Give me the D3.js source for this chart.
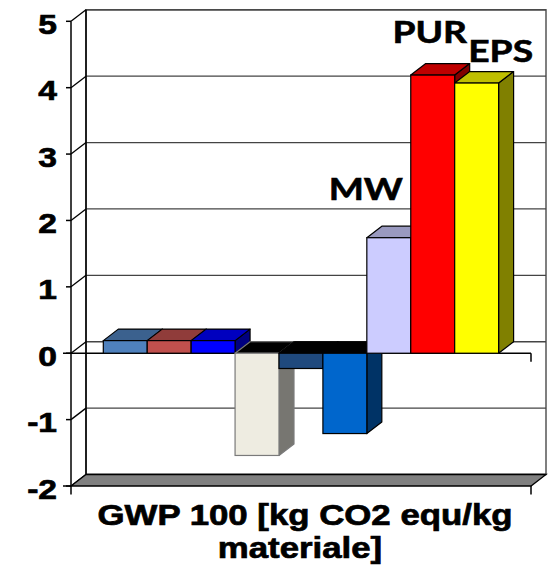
<!DOCTYPE html>
<html>
<head>
<meta charset="utf-8">
<script src="https://cdn.jsdelivr.net/npm/d3@7"></script>
<style>
  html, body { margin: 0; padding: 0; background: #fff; }
  svg { display: block; }
</style>
</head>
<body>
<svg id="chart" width="551" height="588"></svg>
<script>
// ---- data ----
const seriesLabels = ["", "", "", "", "", "", "MW", "PUR", "EPS"];
const seriesValues = [0.19, 0.19, 0.19, -1.54, -0.23, -1.21, 1.74, 4.19, 4.07];
const yTicks = [-2, -1, 0, 1, 2, 3, 4, 5];
const titleLines = ["GWP 100 [kg CO2 equ/kg", "materiale]"];

// ---- styling ----
const frontColors = ["#4F81BD", "#C0504D", "#0000FF", "#EEECE1", "#1F497D",
                     "#0066CC", "#CCCCFF", "#FF0000", "#FFFF00"];
const edgeColors  = ["#000", "#000", "#000", "#7a7a7a", "#000", "#000", "#000", "#000", "#000"];

const svg = d3.select("#chart");
const DX = 15, DY = -11.5;           // depth offset of the 3D box
const xFront = [71, 531];            // front edge of the plot floor
const stretch = 1.2;                 // horizontal text stretch

const y = d3.scaleLinear().domain([-2, 5]).range([486, 21.3]);
const x = d3.scaleBand().domain(d3.range(seriesValues.length))
  .range([103.3, 498.6]).padding(0);
const bw = x.bandwidth();

const shade = (c, k) => { const r = d3.rgb(c); return d3.rgb(r.r * k, r.g * k, r.b * k).formatHex(); };

// back wall
const wall = svg.append("g");
wall.append("rect")
  .attr("x", xFront[0] + DX).attr("y", y(5) + DY)
  .attr("width", xFront[1] - xFront[0]).attr("height", y(-2) - y(5))
  .attr("fill", "#fff").attr("stroke", "#555").attr("stroke-width", 1.5);

// gridlines on the back wall and their side-wall diagonals
wall.selectAll(".grid").data(yTicks).join("line")
  .attr("x1", xFront[0] + DX).attr("x2", xFront[1] + DX)
  .attr("y1", d => y(d) + DY).attr("y2", d => y(d) + DY)
  .attr("stroke", "#444").attr("stroke-width", 1.3);
wall.selectAll(".diag").data(yTicks).join("line")
  .attr("x1", xFront[0]).attr("y1", d => y(d))
  .attr("x2", xFront[0] + DX).attr("y2", d => y(d) + DY)
  .attr("stroke", "#000").attr("stroke-width", 1.3);
wall.append("line")
  .attr("x1", xFront[0] + DX).attr("x2", xFront[0] + DX)
  .attr("y1", y(5) + DY).attr("y2", y(-2) + DY)
  .attr("stroke", "#000").attr("stroke-width", 1.5);

// floor
svg.append("polygon")
  .attr("points", [[xFront[0], y(-2)], [xFront[1], y(-2)], [xFront[1] + DX, y(-2) + DY], [xFront[0] + DX, y(-2) + DY]].join(" "))
  .attr("fill", "#808080").attr("stroke", "#000").attr("stroke-width", 1.3);

// category axis at zero
const axisG = svg.append("g").attr("stroke", "#000").attr("stroke-width", 1.5);
axisG.append("line").attr("x1", 63).attr("x2", xFront[1]).attr("y1", y(0)).attr("y2", y(0));
axisG.append("line").attr("x1", xFront[1]).attr("x2", xFront[1]).attr("y1", y(0)).attr("y2", y(0) + 8.5);

// bars
const bars = svg.append("g").selectAll("g").data(seriesValues).join("g");
bars.each(function (v, i) {
  const g = d3.select(this);
  const x0 = x(i), x1 = x0 + bw;
  const yT = y(Math.max(v, 0)), yB = y(Math.min(v, 0));
  const stroke = edgeColors[i];
  const front = frontColors[i];
  g.append("polygon")
    .attr("points", [[x1, yT], [x1 + DX, yT + DY], [x1 + DX, yB + DY], [x1, yB]].join(" "))
    .attr("fill", shade(front, 0.5)).attr("stroke", stroke).attr("stroke-width", 1.2)
    .attr("stroke-linejoin", "round");
  g.append("polygon")
    .attr("points", [[x0, yT], [x1, yT], [x1 + DX, yT + DY], [x0 + DX, yT + DY]].join(" "))
    .attr("fill", v < 0 ? "#000" : shade(front, 0.75)).attr("stroke", stroke).attr("stroke-width", 1.2)
    .attr("stroke-linejoin", "round");
  g.append("rect")
    .attr("x", x0).attr("y", yT).attr("width", bw).attr("height", yB - yT)
    .attr("fill", front).attr("stroke", stroke).attr("stroke-width", 1.2);
});

// value axis on the front edge
const vAxis = svg.append("g").attr("stroke", "#000").attr("stroke-width", 1.5);
vAxis.append("line").attr("x1", xFront[0]).attr("x2", xFront[0]).attr("y1", y(5)).attr("y2", y(-2) + 8.5);
vAxis.selectAll(".tick").data(yTicks).join("line")
  .attr("x1", 66).attr("x2", xFront[0]).attr("y1", d => y(d)).attr("y2", d => y(d));
vAxis.append("line").attr("x1", 63).attr("x2", xFront[0]).attr("y1", y(-2)).attr("y2", y(-2));
vAxis.append("line").attr("x1", xFront[1]).attr("x2", xFront[1]).attr("y1", y(-2)).attr("y2", y(-2) + 8.5);

svg.append("g").selectAll("text").data(yTicks).join("text")
  .attr("transform", d => `translate(57,${y(d) + 12.5}) scale(${stretch},1)`)
  .attr("text-anchor", "end")
  .attr("font-family", "'Liberation Sans', Arial, sans-serif")
  .attr("font-weight", "bold").attr("font-size", 28)
  .attr("fill", "#000").attr("stroke", "#000").attr("stroke-width", 0.7)
  .text(d => d);

// series name labels
const labelShift = { 6: [-23, 200], 7: [-3, 43], 8: [24, 62] };
svg.append("g").selectAll("text")
  .data(seriesLabels.map((s, i) => ({ s, i })).filter(d => d.s))
  .join("text")
  .attr("transform", d => {
    const cx = x(d.i) + bw / 2 + labelShift[d.i][0];
    return `translate(${cx},${labelShift[d.i][1]}) scale(${stretch},1)`;
  })
  .attr("text-anchor", "middle")
  .attr("font-family", "Lato, 'Open Sans', sans-serif")
  .attr("font-weight", "bold").attr("font-size", 31)
  .attr("fill", "#000").attr("stroke", "#000").attr("stroke-width", 0.6)
  .text(d => d.s);

// axis title
svg.append("g").selectAll("text").data(titleLines).join("text")
  .attr("transform", (d, i) => `translate(${i === 0 ? 305 : 300},${525 + i * 33}) scale(${stretch},1)`)
  .attr("text-anchor", "middle")
  .attr("font-family", "'Liberation Sans', Arial, sans-serif")
  .attr("font-weight", "bold").attr("font-size", 29)
  .attr("fill", "#000").attr("stroke", "#000").attr("stroke-width", 0.7)
  .text(d => d);
</script>
</body>
</html>
